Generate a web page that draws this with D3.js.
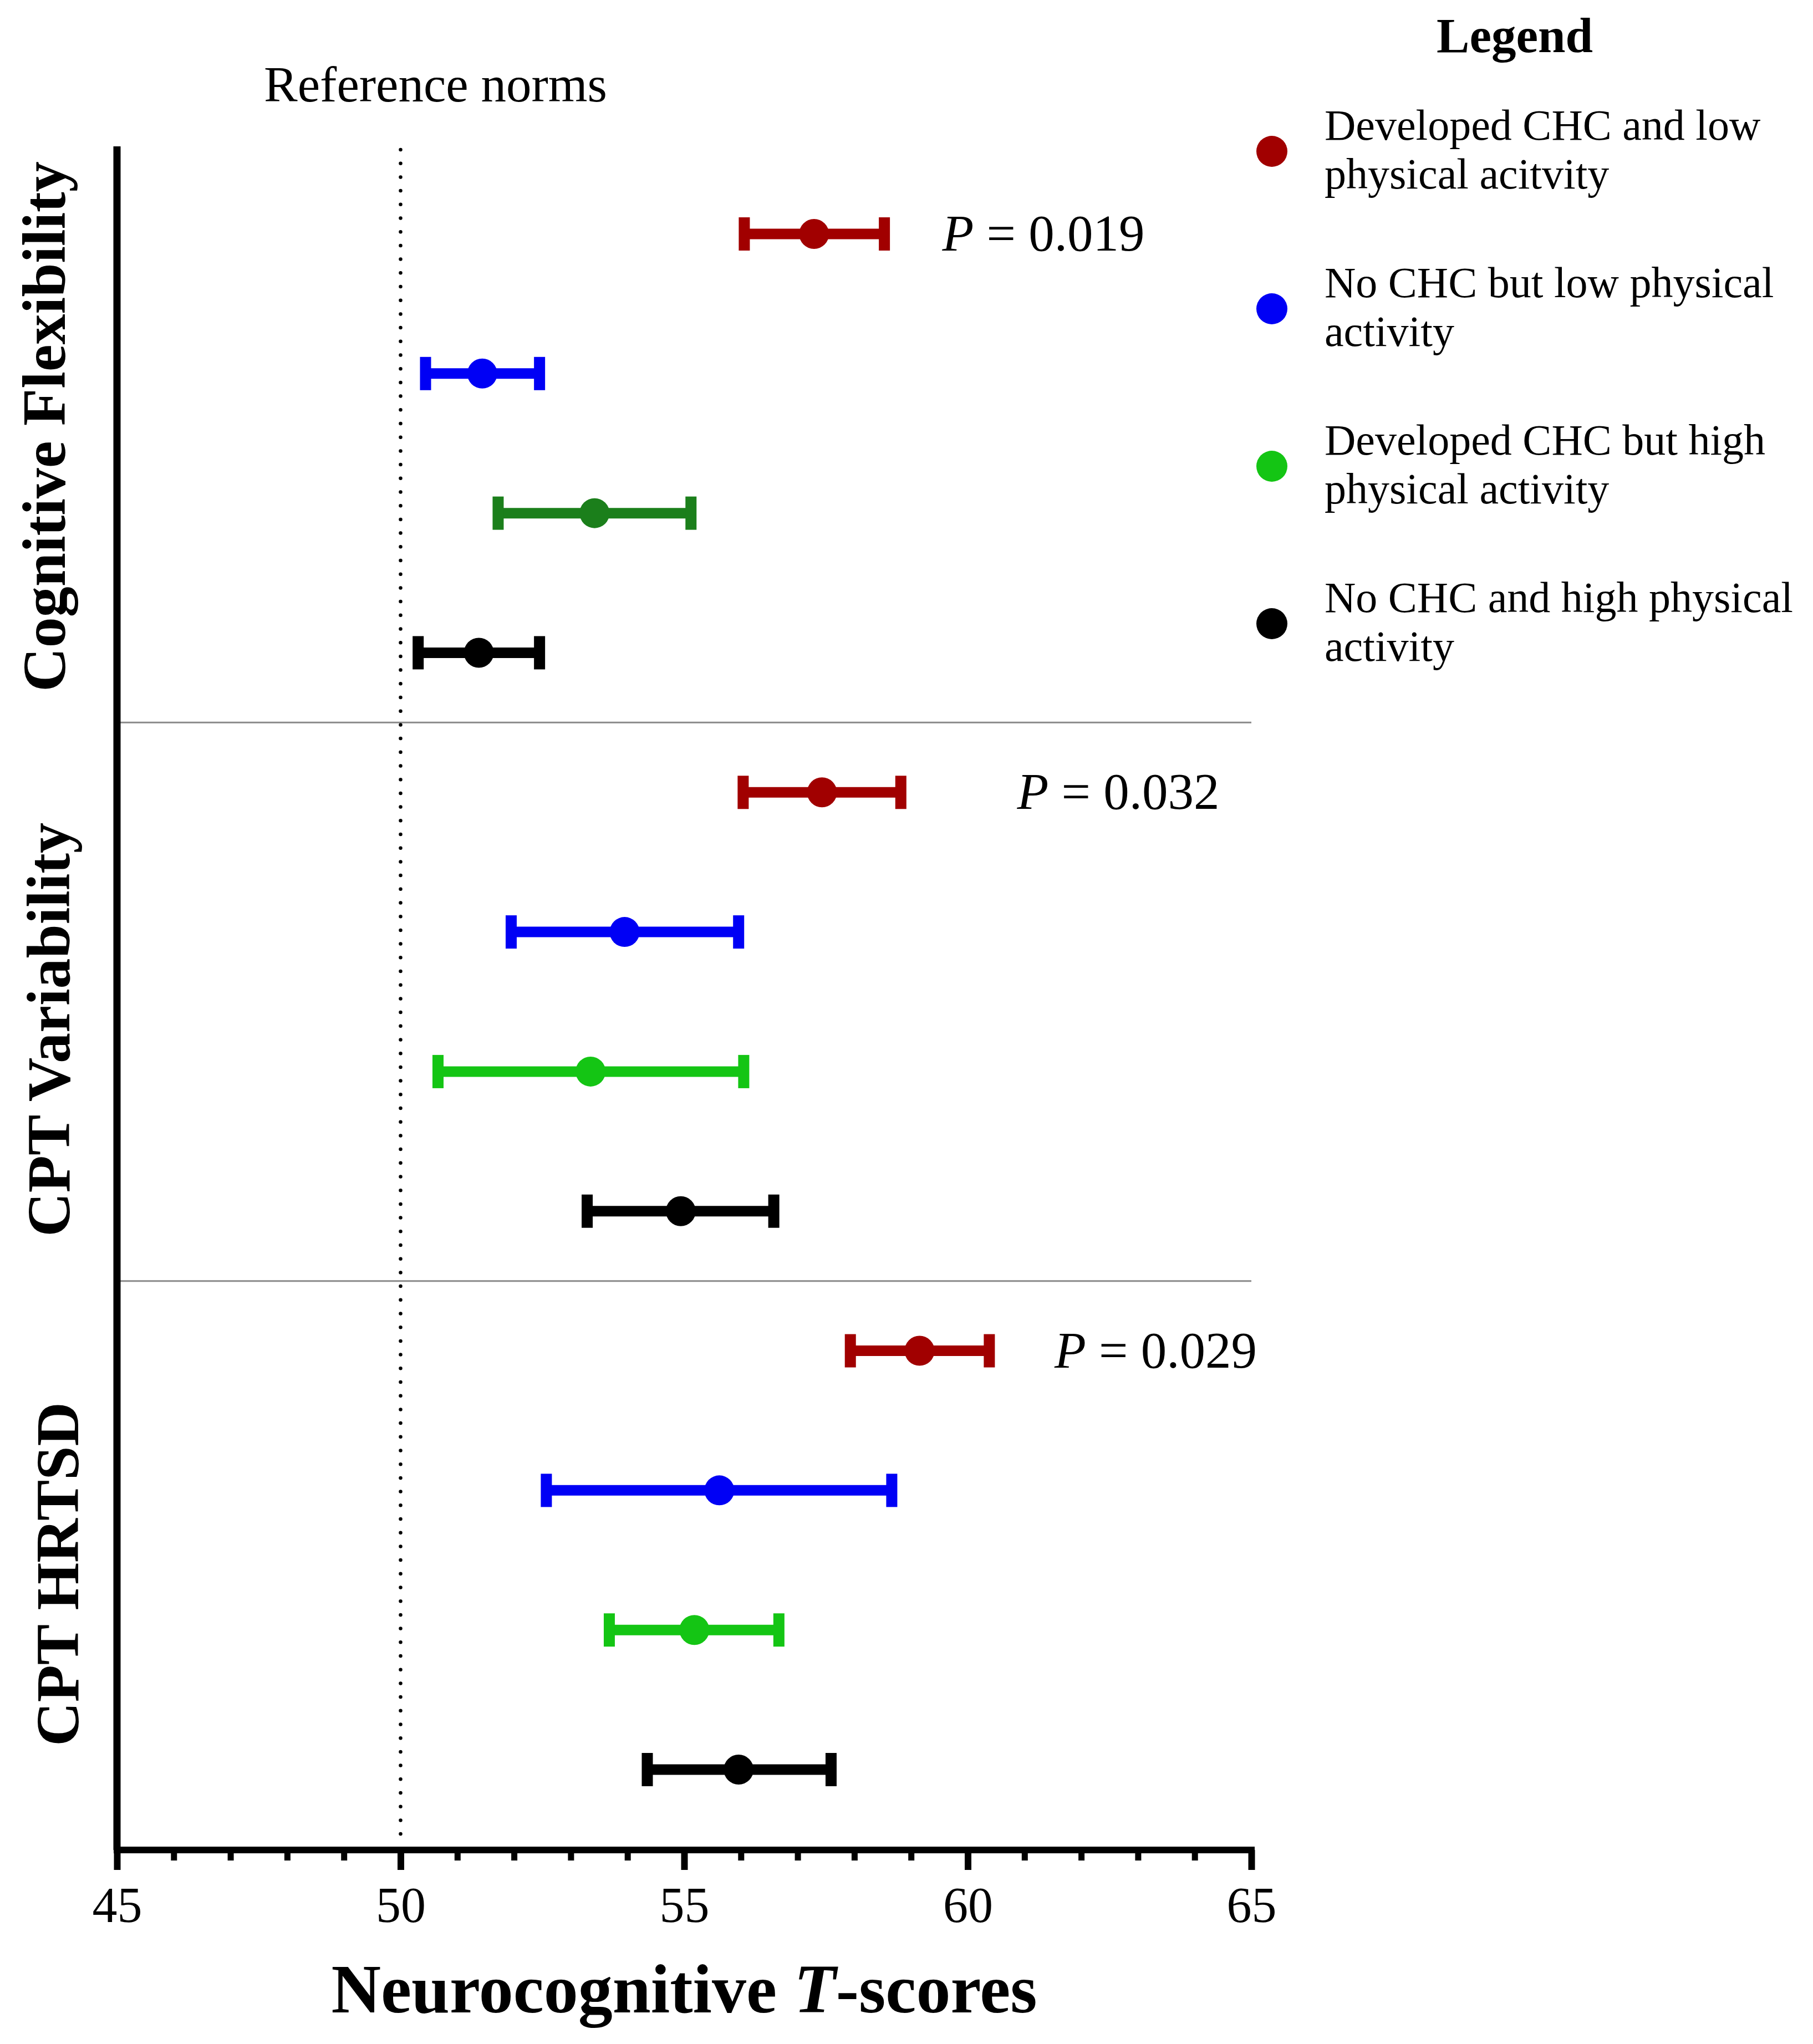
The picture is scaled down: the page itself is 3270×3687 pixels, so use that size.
<!DOCTYPE html>
<html lang="en">
<head>
    <meta charset="UTF-8">
    <title>Neurocognitive T-scores</title>
    <style>
        body {
            margin: 0;
            background: #fff;
        }
        svg text {
            font-family: "Liberation Serif", "DejaVu Serif", serif;
            fill: #000;
        }
    </style>
</head>
<body>

<div id="chart"></div>

<script src="https://d3js.org/d3.v7.min.js"></script>
<script>
    // data
    const measures = ["Cognitive Flexibility", "CPT Variability", "CPT HRTSD"];
    const groups = [
        "Developed CHC and low physical acitvity",
        "No CHC but low physical activity",
        "Developed CHC but high physical activity",
        "No CHC and high physical activity"
    ];
    const legendLines = [
        ["Developed CHC and low", "physical acitvity"],
        ["No CHC but low physical", "activity"],
        ["Developed CHC but high", "physical activity"],
        ["No CHC and high physical", "activity"]
    ];
    const means = [
        [57.29, 51.44, 53.42, 51.38],
        [57.43, 53.95, 53.35, 54.94],
        [59.15, 55.62, 55.18, 55.96]
    ];
    const lower = [
        [56.06, 50.44, 51.72, 50.31],
        [56.04, 51.95, 50.66, 53.29],
        [57.93, 52.57, 53.68, 54.35]
    ];
    const upper = [
        [58.53, 52.45, 55.12, 52.45],
        [58.82, 55.96, 56.05, 56.58],
        [60.38, 58.66, 56.67, 57.59]
    ];
    const pValues = ["0.019", "0.032", "0.029"];
    const xTicks = [45, 50, 55, 60, 65];
    const referenceNorm = 50;

    // styling
    const groupColors = ["#a10000", "#0000f5", "#14c514", "#000000"];
    const panelGreen = ["#1b7f1b", "#14c514", "#14c514"];
    const pLabelAt = [59.55, 60.87, 61.53];  // T-score where the P text starts
    const labelAt = [1.38, 5.7, 9.6];        // row position of the panel labels
    const labelX = [117, 125, 141];

    const W = 3270, H = 3687;

    const svg = d3.select("#chart").append("svg")
        .attr("width", W)
        .attr("height", H);

    svg.append("rect").attr("width", W).attr("height", H).attr("fill", "#fff");

    const x = d3.scaleLinear().domain([45, 65]).range([211, 2257]);
    const y = d3.scaleLinear().domain([0, 11]).range([422, 3192]);
    const axisY = 3337;
    const topY = 264;

    // rows: one per (measure, group)
    const rows = [];
    measures.forEach((m, i) => {
        groups.forEach((g, j) => {
            rows.push({
                measure: i, group: j, row: i * groups.length + j,
                mean: means[i][j], lo: lower[i][j], hi: upper[i][j],
                color: j === 2 ? panelGreen[i] : groupColors[j]
            });
        });
    });

    // panel separators
    svg.selectAll(".sep")
        .data([3.5, 7.5])
      .enter().append("line")
        .attr("class", "sep")
        .attr("x1", x(45) + 6)
        .attr("x2", x(65))
        .attr("y1", d => y(d))
        .attr("y2", d => y(d))
        .attr("stroke", "#8a8a8a")
        .attr("stroke-width", 3);

    // reference norm (dotted)
    svg.append("line")
        .attr("x1", x(referenceNorm)).attr("x2", x(referenceNorm))
        .attr("y1", topY + 6).attr("y2", axisY - 8)
        .attr("stroke", "#000")
        .attr("stroke-width", 6.5)
        .attr("stroke-linecap", "round")
        .attr("stroke-dasharray", "0 24.7");

    svg.append("text")
        .attr("x", 476)
        .attr("y", 183)
        .style("font-size", "91px")
        .text("Reference norms");

    // x axis: minor ticks then major ticks
    const minorVals = d3.range(46, 65).filter(v => v % 5 !== 0);

    const minorAxis = svg.append("g")
        .attr("transform", "translate(0," + axisY + ")")
        .call(d3.axisBottom(x).tickValues(minorVals).tickSize(19).tickSizeOuter(0).tickFormat(""));
    minorAxis.select(".domain").remove();
    minorAxis.selectAll(".tick line").attr("stroke-width", 11);

    const majorAxis = svg.append("g")
        .attr("transform", "translate(0," + axisY + ")")
        .call(d3.axisBottom(x).tickValues(xTicks).tickSize(36).tickSizeOuter(0).tickFormat(d3.format("d")));
    majorAxis.select(".domain")
        .attr("d", "M" + (x(45) - 6) + ",0H" + (x(65) + 6))
        .attr("stroke-width", 12);
    majorAxis.selectAll(".tick line").attr("stroke-width", 12);
    majorAxis.selectAll(".tick text")
        .attr("y", 130)
        .attr("dy", 0)
        .style("font-size", "90px")
        .style("font-family", "'Liberation Serif', serif");

    // y axis line
    svg.append("line")
        .attr("x1", x(45)).attr("x2", x(45))
        .attr("y1", topY).attr("y2", axisY)
        .attr("stroke", "#000")
        .attr("stroke-width", 13);

    // error bars
    const bars = svg.selectAll(".bar")
        .data(rows)
      .enter().append("g")
        .attr("class", "bar");

    bars.append("line")
        .attr("x1", d => x(d.lo))
        .attr("x2", d => x(d.hi))
        .attr("y1", d => y(d.row))
        .attr("y2", d => y(d.row))
        .attr("stroke", d => d.color)
        .attr("stroke-width", 19);

    bars.selectAll(".cap")
        .data(d => [d.lo, d.hi].map(v => ({ v: v, row: d.row, color: d.color })))
      .enter().append("rect")
        .attr("class", "cap")
        .attr("x", d => x(d.v) - 10)
        .attr("y", d => y(d.row) - 30)
        .attr("width", 20)
        .attr("height", 60)
        .attr("fill", d => d.color);

    bars.append("circle")
        .attr("cx", d => x(d.mean))
        .attr("cy", d => y(d.row))
        .attr("r", 27)
        .attr("fill", d => d.color);

    // P values
    const pText = svg.selectAll(".pval")
        .data(pValues)
      .enter().append("text")
        .attr("class", "pval")
        .attr("x", (d, i) => x(pLabelAt[i]))
        .attr("y", (d, i) => y(i * groups.length) + 30)
        .style("font-size", "93px");
    pText.append("tspan").style("font-style", "italic").text("P");
    pText.append("tspan").text(d => " = " + d);

    // panel labels (rotated)
    svg.selectAll(".plabel")
        .data(measures)
      .enter().append("text")
        .attr("class", "plabel")
        .attr("transform", (d, i) => "translate(" + labelX[i] + "," + y(labelAt[i]) + ") rotate(-90)")
        .attr("text-anchor", "middle")
        .style("font-size", "110px")
        .style("font-weight", "bold")
        .text(d => d);

    // x axis title
    const xt = svg.append("text")
        .attr("x", (x(45) + x(65)) / 2)
        .attr("y", 3630)
        .attr("text-anchor", "middle")
        .style("font-size", "124px")
        .style("font-weight", "bold");
    xt.append("tspan").text("Neurocognitive ");
    xt.append("tspan").style("font-style", "italic").text("T");
    xt.append("tspan").text("-scores");

    // legend
    const legend = svg.append("g");
    legend.append("text")
        .attr("x", 2732)
        .attr("y", 94)
        .attr("text-anchor", "middle")
        .style("font-size", "89px")
        .style("font-weight", "bold")
        .text("Legend");

    const item = legend.selectAll(".item")
        .data(groups)
      .enter().append("g")
        .attr("class", "item")
        .attr("transform", (d, i) => "translate(2294," + (273 + i * 284) + ")");

    item.append("circle")
        .attr("r", 28)
        .attr("fill", (d, i) => groupColors[i]);

    item.append("text")
        .attr("x", 95)
        .attr("y", -21)
        .style("font-size", "78px")
        .selectAll("tspan")
        .data((d, i) => legendLines[i])
      .enter().append("tspan")
        .attr("x", 95)
        .attr("dy", (d, k) => k === 0 ? 0 : 88)
        .text(d => d);
</script>

</body>
</html>
